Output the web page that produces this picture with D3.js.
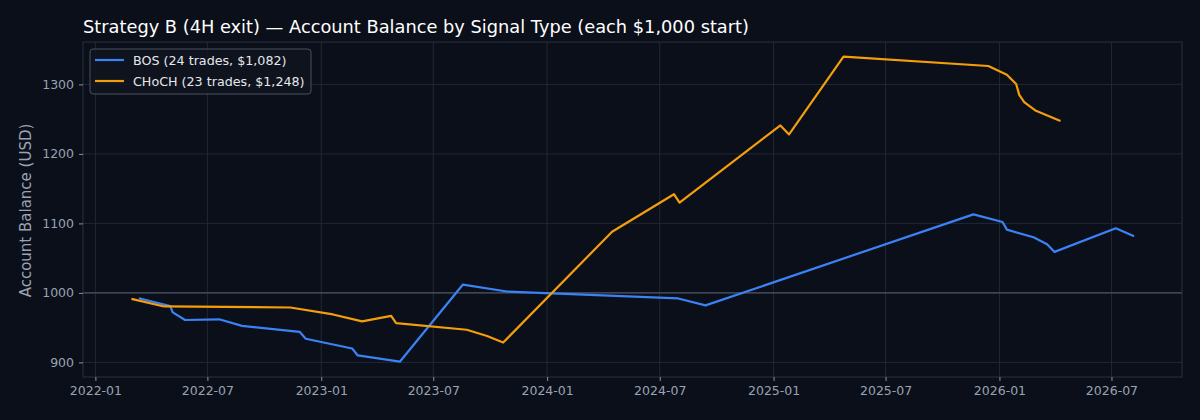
<!DOCTYPE html>
<html>
<head>
<meta charset="utf-8">
<script src="https://cdn.jsdelivr.net/npm/d3@7/dist/d3.min.js"></script>
<style>
  html, body { margin: 0; padding: 0; background: #0b0f19; }
  svg { display: block; }
  text { font-family: "DejaVu Sans", sans-serif; }
</style>
</head>
<body>
<svg id="chart" width="1200" height="420"></svg>
<script>
// ---- Data ----
const titleText = "Strategy B (4H exit) \u2014 Account Balance by Signal Type (each $1,000 start)";
const yLabel = "Account Balance (USD)";

const bosDates = ["2022-03-14","2022-05-02","2022-05-06","2022-05-26","2022-07-20","2022-08-26",
  "2022-11-27","2022-12-07","2023-02-20","2023-03-01","2023-05-08","2023-08-18","2023-10-28",
  "2024-07-31","2024-09-13","2025-11-20","2026-01-06","2026-01-13","2026-02-25","2026-03-19",
  "2026-03-31","2026-07-08","2026-08-05"];
const bosValues = [992, 981, 972, 961, 962, 952.5, 944, 934, 920, 910, 901, 1012, 1002,
  992, 982, 1113, 1102, 1091, 1080, 1070, 1059, 1093, 1082];

const chochDates = ["2022-03-02","2022-04-22","2022-11-12","2023-01-20","2023-03-08","2023-04-24",
  "2023-05-02","2023-08-24","2023-09-26","2023-10-22","2024-04-15","2024-07-24","2024-08-02",
  "2025-01-12","2025-01-26","2025-04-24","2025-12-14","2026-01-13","2026-01-28","2026-02-02",
  "2026-02-10","2026-03-01","2026-04-08"];
const chochValues = [991, 980.5, 979, 969, 959, 967, 956.5, 947, 938, 928.5, 1088, 1142, 1130,
  1241, 1228, 1340, 1326.5, 1314, 1300.5, 1285, 1274.5, 1262, 1248];

const seriesNames = ["BOS (24 trades, $1,082)", "CHoCH (23 trades, $1,248)"];
const seriesColors = ["#3b82f6", "#f59e0b"];

const xTickLabels = ["2022-01","2022-07","2023-01","2023-07","2024-01","2024-07","2025-01","2025-07","2026-01","2026-07"];
const yTickValues = [900, 1000, 1100, 1200, 1300];
const baseline = 1000;

// ---- Layout ----
const W = 1200, H = 420;
const m = { left: 83, right: 18, top: 42, bottom: 43 };
const pw = W - m.left - m.right, ph = H - m.top - m.bottom;

const parse = d3.timeParse("%Y-%m-%d");
const parseM = d3.timeParse("%Y-%m");
const series = [
  bosDates.map((d, i) => ({ date: parse(d), value: bosValues[i] })),
  chochDates.map((d, i) => ({ date: parse(d), value: chochValues[i] }))
];

const x = d3.scaleTime()
  .domain([parse("2021-12-12"), parse("2026-10-23")])
  .range([0, pw]);
const y = d3.scaleLinear().domain([879, 1361]).range([ph, 0]);

const svg = d3.select("#chart");
svg.append("rect").attr("width", W).attr("height", H).attr("fill", "#0b0f19");

const g = svg.append("g").attr("transform", `translate(${m.left},${m.top})`);

const xTicks = xTickLabels.map(parseM);

// grid
g.append("g").selectAll("line").data(xTicks).join("line")
  .attr("x1", d => x(d)).attr("x2", d => x(d)).attr("y1", 0).attr("y2", ph)
  .attr("stroke", "#222a38").attr("stroke-width", 0.9);
g.append("g").selectAll("line").data(yTickValues).join("line")
  .attr("x1", 0).attr("x2", pw).attr("y1", d => y(d)).attr("y2", d => y(d))
  .attr("stroke", "#222a38").attr("stroke-width", 0.9);

// baseline
g.append("line").attr("x1", 0).attr("x2", pw)
  .attr("y1", y(baseline)).attr("y2", y(baseline))
  .attr("stroke", "#4b5262").attr("stroke-width", 1.3);

// frame
g.append("rect").attr("x", 0).attr("y", 0).attr("width", pw).attr("height", ph)
  .attr("fill", "none").attr("stroke", "#2a3140").attr("stroke-width", 1);

// axes
const xAxis = d3.axisBottom(x).tickValues(xTicks).tickFormat(d3.timeFormat("%Y-%m"))
  .tickSizeOuter(0).tickSize(4).tickPadding(5);
const yAxis = d3.axisLeft(y).tickValues(yTickValues).tickFormat(d3.format("d"))
  .tickSizeOuter(0).tickSize(4).tickPadding(5);

const gx = g.append("g").attr("transform", `translate(0,${ph})`).call(xAxis);
const gy = g.append("g").call(yAxis);
[gx, gy].forEach(a => {
  a.select(".domain").remove();
  a.selectAll(".tick line").attr("stroke", "#8a93a3");
  a.selectAll(".tick text").attr("fill", "#9aa3b2").attr("font-size", "12.5px")
    .attr("font-family", "DejaVu Sans, sans-serif");
});

// lines
const line = d3.line().x(d => x(d.date)).y(d => y(d.value));
series.forEach((s, i) => {
  g.append("path").datum(s).attr("d", line)
    .attr("fill", "none").attr("stroke", seriesColors[i])
    .attr("stroke-width", 2.2).attr("stroke-linejoin", "round").attr("stroke-linecap", "square");
});

// title
svg.append("text").attr("x", m.left).attr("y", 33)
  .attr("fill", "#ffffff").attr("font-size", "17.8px").text(titleText);

// y label
svg.append("text")
  .attr("transform", `translate(26,${m.top + ph / 2 + 1}) rotate(-90)`)
  .attr("text-anchor", "middle").attr("dy", "0.35em").attr("fill", "#9aa3b2").attr("font-size", "15px")
  .text(yLabel);

// legend
const lg = svg.append("g").attr("transform", "translate(90,49)");
lg.append("rect").attr("width", 221).attr("height", 45).attr("rx", 3)
  .attr("fill", "#0f1420").attr("fill-opacity", 0.85)
  .attr("stroke", "#4a5060").attr("stroke-width", 1);
seriesNames.forEach((name, i) => {
  const yy = 11 + i * 21;
  lg.append("line").attr("x1", 5).attr("x2", 34).attr("y1", yy).attr("y2", yy)
    .attr("stroke", seriesColors[i]).attr("stroke-width", 2.2);
  lg.append("text").attr("x", 43).attr("y", yy + 4.5)
    .attr("fill", "#e5e7eb").attr("font-size", "12.7px").text(name);
});
</script>
</body>
</html>
